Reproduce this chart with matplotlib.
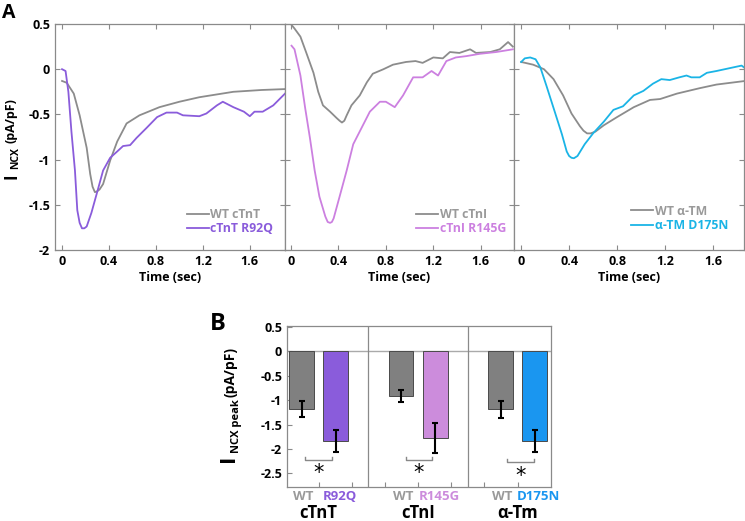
import matplotlib
matplotlib.use("Agg")
import matplotlib.pyplot as plt
import numpy as np

plt.rcParams['font.family'] = ['Open Sans', 'DejaVu Sans']
plt.rcParams['font.weight'] = 'bold'

# ---------------- Panel A data ----------------
t_wt_tnt = [0.0, 0.04, 0.10, 0.15, 0.21, 0.24, 0.26, 0.28, 0.30, 0.32, 0.35, 0.41, 0.47, 0.55, 0.66, 0.83, 1.00, 1.17, 1.46, 1.70, 1.90]
v_wt_tnt = [-0.13, -0.15, -0.27, -0.51, -0.87, -1.16, -1.30, -1.36, -1.35, -1.33, -1.27, -1.01, -0.80, -0.60, -0.51, -0.42, -0.36, -0.31, -0.25, -0.23, -0.22]
t_mut_tnt = [0.0, 0.03, 0.054, 0.08, 0.11, 0.13, 0.15, 0.17, 0.19, 0.21, 0.25, 0.295, 0.35, 0.41, 0.47, 0.52, 0.58,
             0.635, 0.72, 0.81, 0.89, 0.98, 1.03, 1.17, 1.23, 1.32, 1.37, 1.46, 1.55, 1.60, 1.64, 1.71, 1.80, 1.90]
v_mut_tnt = [0.0, -0.02, -0.25, -0.69, -1.12, -1.56, -1.70, -1.76, -1.76, -1.74, -1.59, -1.38, -1.12, -0.98, -0.91, -0.85, -0.84,
             -0.76, -0.65, -0.53, -0.48, -0.48, -0.51, -0.52, -0.49, -0.40, -0.36, -0.42, -0.47, -0.52, -0.47, -0.47, -0.40, -0.27]

t_wt_tni = [0.005, 0.03, 0.08, 0.13, 0.19, 0.23, 0.27, 0.33, 0.385, 0.41, 0.43, 0.45, 0.47, 0.51, 0.58, 0.64, 0.69, 0.78,
            0.86, 0.97, 1.05, 1.11, 1.20, 1.28, 1.34, 1.42, 1.51, 1.56, 1.68, 1.76, 1.83, 1.87]
v_wt_tni = [0.49, 0.45, 0.36, 0.18, -0.04, -0.25, -0.40, -0.47, -0.54, -0.57, -0.59, -0.57, -0.51, -0.40, -0.29, -0.145, -0.05, 0.0,
            0.05, 0.08, 0.09, 0.07, 0.13, 0.12, 0.19, 0.18, 0.22, 0.18, 0.19, 0.22, 0.30, 0.25]
t_mut_tni = [0.005, 0.03, 0.08, 0.12, 0.16, 0.20, 0.24, 0.29, 0.31, 0.33, 0.345, 0.36, 0.41, 0.47, 0.525, 0.595, 0.665, 0.75,
             0.80, 0.875, 0.945, 1.03, 1.11, 1.185, 1.24, 1.31, 1.39, 1.48, 1.59, 1.73, 1.87]
v_mut_tni = [0.26, 0.22, -0.07, -0.43, -0.76, -1.12, -1.41, -1.63, -1.69, -1.70, -1.69, -1.65, -1.41, -1.12, -0.83, -0.65, -0.47, -0.36,
             -0.36, -0.42, -0.29, -0.09, -0.09, -0.02, -0.07, 0.09, 0.13, 0.145, 0.17, 0.19, 0.22]

t_wt_tm = [0.0, 0.10, 0.19, 0.27, 0.35, 0.42, 0.49, 0.52, 0.55, 0.58, 0.62, 0.69, 0.80, 0.94, 1.075, 1.16, 1.30, 1.49, 1.63, 1.87]
v_wt_tm = [0.08, 0.05, 0.0, -0.11, -0.29, -0.49, -0.63, -0.68, -0.71, -0.71, -0.69, -0.62, -0.53, -0.42, -0.34, -0.33, -0.27, -0.21, -0.17, -0.13]
t_mut_tm = [0.0, 0.03, 0.075, 0.12, 0.16, 0.21, 0.28, 0.34, 0.38, 0.40, 0.42, 0.44, 0.47, 0.53, 0.60, 0.69, 0.77, 0.85,
            0.94, 1.02, 1.10, 1.17, 1.24, 1.32, 1.38, 1.42, 1.49, 1.55, 1.63, 1.77, 1.84, 1.87]
v_mut_tm = [0.08, 0.12, 0.13, 0.11, 0.02, -0.18, -0.47, -0.72, -0.91, -0.96, -0.98, -0.985, -0.96, -0.83, -0.71, -0.58, -0.45, -0.41,
            -0.29, -0.24, -0.16, -0.11, -0.12, -0.09, -0.07, -0.09, -0.09, -0.04, -0.02, 0.02, 0.04, 0.01]

wt_labels_A = ['WT cTnT', 'WT cTnI', 'WT \u03b1-TM']
mut_labels_A = ['cTnT R92Q', 'cTnI R145G', '\u03b1-TM D175N']
x_ticks_A = [0, 0.4, 0.8, 1.2, 1.6]
y_ticks_A = [0.5, 0, -0.5, -1, -1.5, -2]
y_ticklabels_A = ['0.5', '0', '-0.5', '-1', '-1.5', '-2']

# ---------------- Panel B data ----------------
groups = ['cTnT', 'cTnI', '\u03b1-Tm']
wt_means = [-1.18, -0.92, -1.19]
wt_err = [0.17, 0.12, 0.17]
mut_names = ['R92Q', 'R145G', 'D175N']
mut_means = [-1.84, -1.77, -1.84]
mut_err = [0.23, 0.31, 0.23]
y_ticks_B = [0.5, 0, -0.5, -1, -1.5, -2, -2.5]
y_ticklabels_B = ['0.5', '0', '-0.5', '-1', '-1.5', '-2', '-2.5']

# ---------------- styles ----------------
gray_line = '#8c8c8c'
gray_text = '#9a9a9a'
mut_line_colors = ['#8a5cdb', '#cc80e0', '#1ab4e6']
mut_bar_colors = ['#8a5cdb', '#cc8cdc', '#1a96f0']
wt_bar_color = '#808080'
spine_col = '#8a8a8a'

W, H = 745, 521
fig = plt.figure(figsize=(W / 100, H / 100), dpi=100)

def fr(x0, y0, x1, y1):
    return [x0 / W, 1 - y1 / H, (x1 - x0) / W, (y1 - y0) / H]

a_boxes = [fr(55, 24, 285, 250), fr(285, 24, 514, 250), fr(514, 24, 744, 250)]
a_xlims = [(-0.06, 1.9), (-0.05, 1.88), (-0.06, 1.86)]
wt_series = [(t_wt_tnt, v_wt_tnt), (t_wt_tni, v_wt_tni), (t_wt_tm, v_wt_tm)]
mut_series = [(t_mut_tnt, v_mut_tnt), (t_mut_tni, v_mut_tni), (t_mut_tm, v_mut_tm)]
leg_anchor = [(0.95, 0.065), (0.965, 0.065), (0.93, 0.08)]

for i in range(3):
    ax = fig.add_axes(a_boxes[i])
    tw, vw = wt_series[i]
    tm, vm = mut_series[i]
    ax.plot(tw, vw, color=gray_line, lw=1.3, label=wt_labels_A[i], solid_joinstyle='round')
    ax.plot(tm, vm, color=mut_line_colors[i], lw=1.3, label=mut_labels_A[i], solid_joinstyle='round')
    ax.set_xlim(*a_xlims[i])
    ax.set_ylim(-2, 0.5)
    ax.set_xticks(x_ticks_A)
    ax.set_xticklabels([('%g' % v) for v in x_ticks_A])
    ax.set_yticks(y_ticks_A)
    if i == 0:
        ax.set_yticklabels(y_ticklabels_A)
    else:
        ax.set_yticklabels([])
    ax.tick_params(direction='in', length=3.5, width=0.8, color=spine_col,
                   top=True, right=True, labelsize=9, pad=3.5)
    for s in ax.spines.values():
        s.set_color(spine_col)
        s.set_linewidth(0.9)
    ax.set_xlabel('Time (sec)', fontsize=9, fontweight='bold', labelpad=2)
    leg = ax.legend(loc='lower right', bbox_to_anchor=leg_anchor[i], frameon=False,
                    prop={'size': 8.8, 'weight': 'bold'}, handlelength=1.75, handletextpad=0.15,
                    labelspacing=0.1, borderpad=0, borderaxespad=0)
    for txt, col in zip(leg.get_texts(), [gray_text, mut_line_colors[i]]):
        txt.set_color(col)

# A ylabel pieces
fig.text(11 / W, 1 - 176 / H, 'I', rotation=90, fontsize=12, fontweight='bold', ha='center', va='center')
fig.text(16 / W, 1 - 158 / H, 'NCX', rotation=90, fontsize=7.5, fontweight='bold', ha='center', va='center')
fig.text(11 / W, 1 - 121 / H, '(pA/pF)', rotation=90, fontsize=9, fontweight='bold', ha='center', va='center')
fig.text(9 / W, 1 - 13 / H, 'A', fontsize=14, fontweight='bold', ha='center', va='center')

# ---------------- Panel B ----------------
axb = fig.add_axes(fr(287, 326, 551, 487))
xg = np.arange(len(groups))
off = 0.171
bw = 0.25
axb.bar(xg - off, wt_means, width=bw, color=wt_bar_color, edgecolor='#4a4a4a', linewidth=0.7, zorder=2)
axb.bar(xg + off, mut_means, width=bw, color=mut_bar_colors, edgecolor='#4a4a4a', linewidth=0.7, zorder=2)
axb.errorbar(xg - off, wt_means, yerr=wt_err, fmt='none', ecolor='black', elinewidth=1.5, capsize=2, capthick=1.5, zorder=3)
axb.errorbar(xg + off, mut_means, yerr=mut_err, fmt='none', ecolor='black', elinewidth=1.5, capsize=2, capthick=1.5, zorder=3)
axb.axhline(0, color='#aaaaaa', lw=1.0, zorder=1)
for d in [0.5, 1.5]:
    axb.axvline(d, color='#8a8a8a', lw=0.9, zorder=1)
axb.set_xlim(-0.317, 2.336)
axb.set_ylim(-2.78, 0.52)
axb.set_yticks(y_ticks_B)
axb.set_yticklabels(y_ticklabels_B)
axb.set_xticks(np.arange(0, 7) / 3.0)
axb.set_xticklabels([])
axb.tick_params(direction='in', length=3.5, width=0.8, color=spine_col, labelsize=9, pad=3.5)
for s in axb.spines.values():
    s.set_color(spine_col)
    s.set_linewidth(0.9)

star_x = [0.0, 1.01, 2.03]
bracket_y = [-2.22, -2.23, -2.27]
star_y = [-2.49, -2.50, -2.55]
for i in range(3):
    cx = star_x[i]
    axb.plot([cx - 0.135, cx - 0.135, cx + 0.135, cx + 0.135],
             [bracket_y[i] + 0.06, bracket_y[i], bracket_y[i], bracket_y[i] + 0.06],
             color='#888888', lw=1.0, zorder=2)
    axb.text(cx, star_y[i], '*', fontsize=15, ha='center', va='center', fontweight='normal',
             family='DejaVu Sans')

# labels under bars
for i in range(3):
    axb.text(xg[i] - off + 0.02, -2.97, 'WT', color=gray_text, fontsize=9.5, fontweight='bold',
             ha='center', va='center', clip_on=False)
    axb.text(xg[i] + off + 0.04, -2.97, mut_names[i], color=mut_bar_colors[i], fontsize=9.5,
             fontweight='bold', ha='center', va='center', clip_on=False)
    axb.text(xg[i], -3.32, groups[i], color='black', fontsize=12, fontweight='bold',
             ha='center', va='center', clip_on=False)

fig.text(228 / W, 1 - 458 / H, 'I', rotation=90, fontsize=16, fontweight='bold', ha='center', va='center')
fig.text(236 / W, 1 - 426 / H, 'NCX peak', rotation=90, fontsize=8, fontweight='bold', ha='center', va='center')
fig.text(230 / W, 1 - 372 / H, '(pA/pF)', rotation=90, fontsize=10, fontweight='bold', ha='center', va='center')
fig.text(218 / W, 1 - 324 / H, 'B', fontsize=17, fontweight='bold', ha='center', va='center')

fig.savefig('out.png', dpi=100)
